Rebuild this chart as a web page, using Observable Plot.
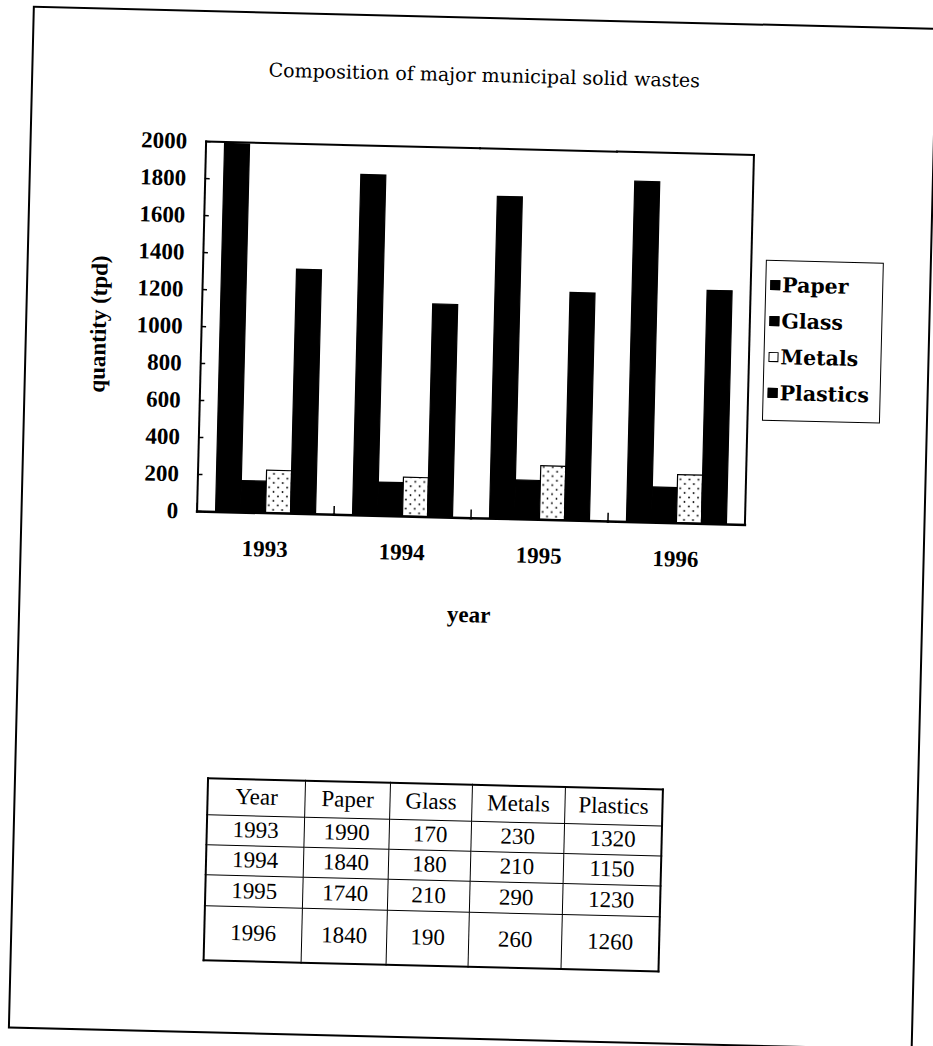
<!DOCTYPE html>
<html>
<head>
<meta charset="utf-8">
<script src="https://cdn.jsdelivr.net/npm/d3@7"></script>
<script src="https://cdn.jsdelivr.net/npm/@observablehq/plot@0.6"></script>
<style>
  html, body { margin: 0; padding: 0; background: #fff; overflow: hidden; }
  #page { position: relative; width: 933px; height: 1046px; transform: rotate(1.4deg); transform-origin: 0 0; }
  #border { position: absolute; left: 33px; top: 5px; width: 905px; height: 1023px; box-sizing: border-box; border: 2.5px solid #000; }
  #title { position: absolute; left: 186px; top: 51px; width: 600px; text-align: center; line-height: 24px;
           font-family: "DejaVu Serif", serif; font-size: 19px; color: #000; }
  #chart { position: absolute; left: 0; top: 100px; }
  #legend { position: absolute; left: 772px; top: 241px; width: 118px; height: 161px; box-sizing: border-box;
            border: 1.5px solid #000; padding-top: 6px; }
  .item { height: 36px; display: flex; align-items: center; padding-left: 4px;
          font-family: "DejaVu Serif", serif; font-weight: bold; font-size: 20.5px; color: #000; }
  .sw { width: 10px; height: 10px; box-sizing: border-box; margin-right: 2px; flex: none; border: 1.2px solid #000; }
  #table { position: absolute; left: 226px; top: 772px; border-collapse: collapse; border: 2px solid #000;
           font-family: "Liberation Serif", "Times New Roman", serif; font-size: 23px; color: #000; }
  #table td { border: 1.5px solid #000; text-align: center; padding: 0; line-height: 24px; }
</style>
</head>
<body>
<div id="page">
  <div id="border"></div>
  <div id="title">Composition of major municipal solid wastes</div>
  <div id="chart"></div>
  <div id="legend"></div>
  <table id="table"></table>
</div>
<script>
// ---- data ----
const years = ["1993", "1994", "1995", "1996"];
const series = ["Paper", "Glass", "Metals", "Plastics"];
const paper = [1990, 1840, 1740, 1840];
const glass = [170, 180, 210, 190];
const metals = [230, 210, 290, 260];
const plastics = [1320, 1150, 1230, 1260];
const yTicks = [0, 200, 400, 600, 800, 1000, 1200, 1400, 1600, 1800, 2000];
const fills = ["black", "black", "url(#dots)", "black"];
const tableHeader = ["Year", "Paper", "Glass", "Metals", "Plastics"];

const values = [paper, glass, metals, plastics];
const data = years.flatMap((year, i) => series.map((s, j) => ({year, series: s, value: values[j][i]})));

// ---- chart ----
const chart = Plot.plot({
  width: 770,
  height: 530,
  marginLeft: 209,
  marginRight: 13,
  marginTop: 36,
  marginBottom: 124,
  style: {fontFamily: "'Liberation Serif', 'Times New Roman', serif", fontSize: "23px", fontWeight: "bold", color: "black", background: "transparent", overflow: "visible"},
  fx: {domain: years, padding: 0, axis: "bottom", tickSize: 0, tickPadding: 27, label: "year", labelAnchor: "center", labelOffset: 104},
  x: {domain: series, paddingInner: 0, paddingOuter: 0.66, axis: null},
  y: {domain: [0, 2000]},
  color: {domain: series, range: fills},
  marks: [
    Plot.barY(data, {fx: "year", x: "series", y: "value", fill: "series", stroke: "black", strokeWidth: 1.2}),
    Plot.frame({anchor: "top", strokeWidth: 2}),
    Plot.frame({anchor: "bottom", strokeWidth: 2.5}),
    Plot.frame({anchor: "left", facetAnchor: "left", strokeWidth: 2}),
    Plot.frame({anchor: "right", facetAnchor: "right", strokeWidth: 2}),
    Plot.frame({anchor: "left", insetTop: 362, strokeWidth: 1.5}),
    Plot.axisY(yTicks, {anchor: "left", tickSize: -5, tickPadding: 24, strokeWidth: 1.5, tickFormat: d => String(d),
      label: "quantity (tpd)", labelAnchor: "center", labelOffset: 112, labelArrow: "none"})
  ]
});

// dotted pattern for Metals bars
const svgNS = "http://www.w3.org/2000/svg";
const svg = chart.tagName.toLowerCase() === "svg" ? chart : chart.querySelector("svg");
const defs = document.createElementNS(svgNS, "defs");
defs.innerHTML = `<pattern id="dots" patternUnits="userSpaceOnUse" width="9" height="9">
  <rect width="9" height="9" fill="white"></rect>
  <circle cx="2" cy="2.5" r="0.9" fill="black"></circle>
  <circle cx="6.5" cy="7" r="0.9" fill="black"></circle>
</pattern>`;
svg.insertBefore(defs, svg.firstChild);
document.getElementById("chart").appendChild(chart);

// ---- legend ----
const legend = document.getElementById("legend");
series.forEach((s, j) => {
  const item = document.createElement("div");
  item.className = "item";
  const sw = document.createElement("span");
  sw.className = "sw";
  sw.style.background = fills[j].startsWith("url") ? "white" : fills[j];
  item.appendChild(sw);
  item.appendChild(document.createTextNode(s));
  legend.appendChild(item);
});

// ---- table ----
const table = document.getElementById("table");
const colWidths = [96, 84, 81, 92, 96];
const rowHeights = [36, 30, 30, 31, 55];
const rows = [tableHeader, ...years.map((y, i) => [y, paper[i], glass[i], metals[i], plastics[i]])];
rows.forEach((r, ri) => {
  const tr = document.createElement("tr");
  tr.style.height = rowHeights[ri] + "px";
  r.forEach((v, ci) => {
    const td = document.createElement("td");
    td.style.width = colWidths[ci] + "px";
    td.textContent = v;
    tr.appendChild(td);
  });
  table.appendChild(tr);
});
</script>
</body>
</html>
